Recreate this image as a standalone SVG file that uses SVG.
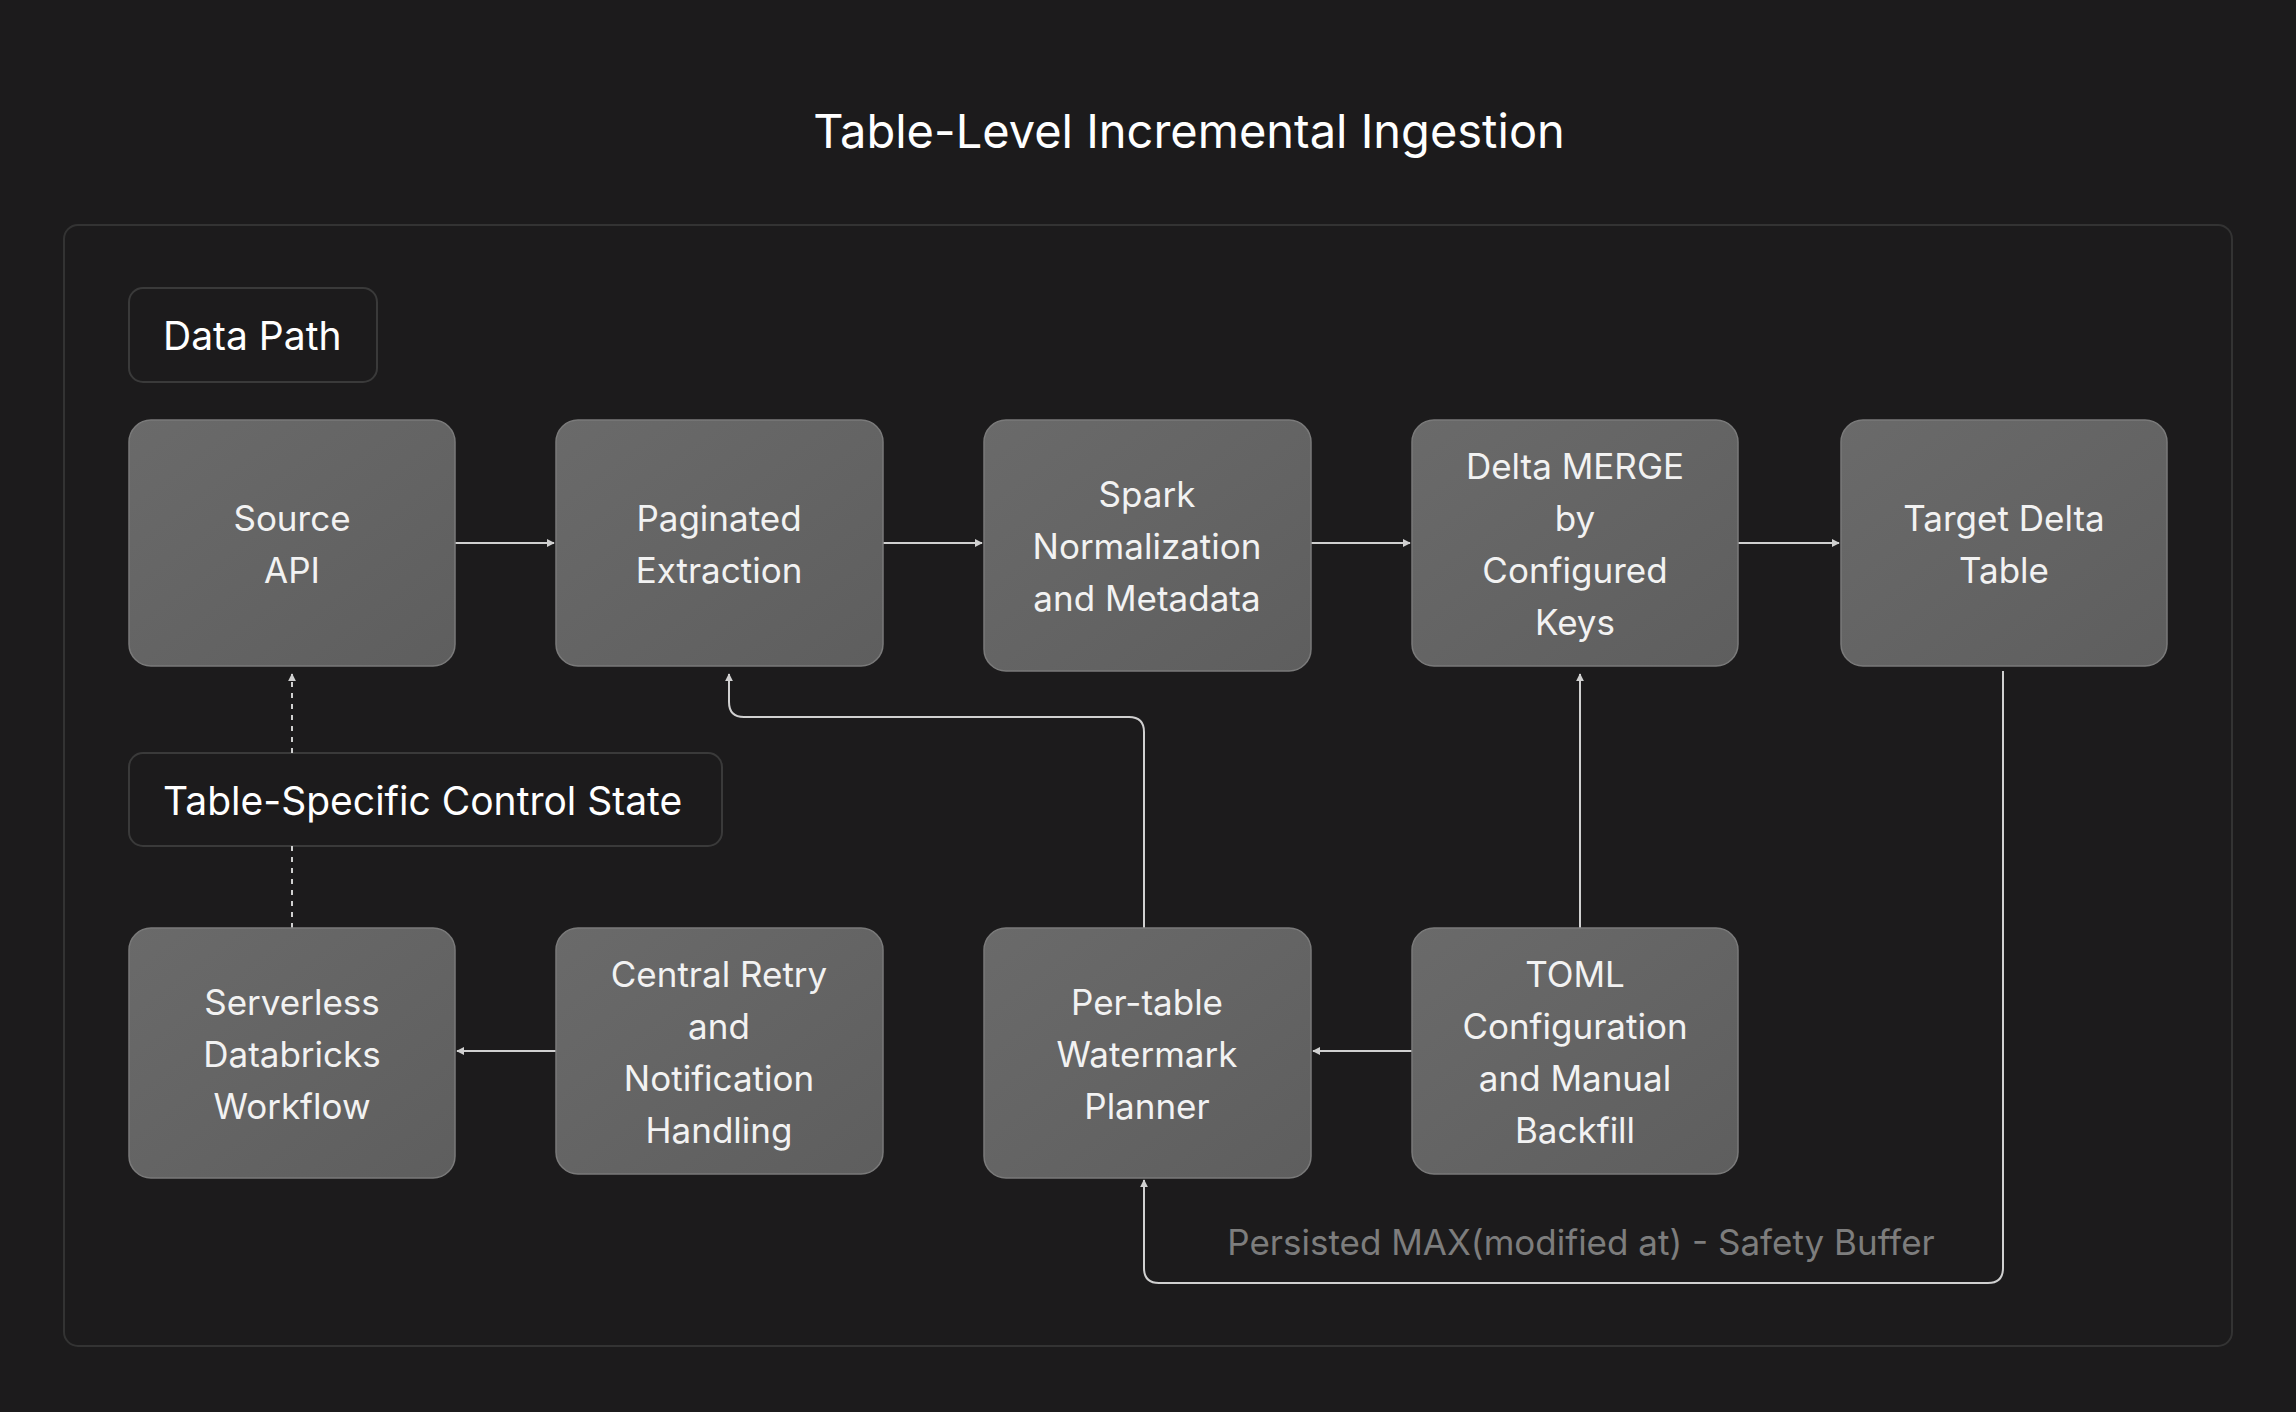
<svg xmlns="http://www.w3.org/2000/svg" width="2296" height="1412" viewBox="0 0 2296 1412">
<defs>
<linearGradient id="g" x1="0" y1="0" x2="1" y2="1"><stop offset="0" stop-color="#6a6a6a"/><stop offset="1" stop-color="#5e5e5e"/></linearGradient>
<marker id="a" viewBox="0 0 10 10" refX="9" refY="5" markerWidth="8" markerHeight="8" orient="auto-start-reverse" markerUnits="userSpaceOnUse"><path d="M0,0 L10,5 L0,10 z" fill="#d0d0d0"/></marker>
<style>
.n{fill:url(#g);stroke:#7a7a7a;stroke-width:1.5}
.t{font-family:Inter,"Liberation Sans",sans-serif;font-size:35px;fill:#f2f2f2;text-anchor:middle}
.l{font-family:Inter,"Liberation Sans",sans-serif;font-size:39px;fill:#ffffff}
.c{fill:none;stroke:#d0d0d0;stroke-width:2}
.d{stroke-dasharray:5 6}
</style>
</defs>
<rect width="2296" height="1412" fill="#1c1b1c"/>
<text x="1189" y="148" class="t" style="font-size:47px;fill:#fff">Table-Level Incremental Ingestion</text>
<rect x="64" y="225" width="2168" height="1121" rx="14" fill="#1c1b1c" stroke="#333" stroke-width="2"/>
<g id="label-data-path"><rect x="129" y="288" width="248" height="94" rx="14" fill="#1c1b1c" stroke="#3a3a3a" stroke-width="2"/><text x="163" y="350" class="l">Data Path</text></g>
<g id="label-control"><rect x="129" y="753" width="593" height="93" rx="14" fill="#1c1b1c" stroke="#3a3a3a" stroke-width="2"/><text x="163" y="815" class="l">Table-Specific Control State</text></g>
<g id="connectors">
<path class="c" d="M455 543H554" marker-end="url(#a)"/>
<path class="c" d="M883 543H982" marker-end="url(#a)"/>
<path class="c" d="M1311 543H1410" marker-end="url(#a)"/>
<path class="c" d="M1738 543H1839" marker-end="url(#a)"/>
<path class="c d" d="M292 928V846"/>
<path class="c d" d="M292 753V674" marker-end="url(#a)"/>
<path class="c" d="M556 1051H457" marker-end="url(#a)"/>
<path class="c" d="M1412 1051H1313" marker-end="url(#a)"/>
<path class="c" d="M1144 928V732Q1144 717 1129 717H744Q729 717 729 702V674" marker-end="url(#a)"/>
<path class="c" d="M1580 928V674" marker-end="url(#a)"/>
<path class="c" d="M2003 671V1268Q2003 1283 1988 1283H1159Q1144 1283 1144 1268V1180" marker-end="url(#a)"/>
<text x="1581" y="1255" class="t" style="fill:#7d7d7d">Persisted MAX(modified at) - Safety Buffer</text>
</g>
<g id="n1"><rect class="n" x="129" y="420" width="326" height="246" rx="22"/><text class="t" x="292" y="531">Source</text><text class="t" x="292" y="583">API</text></g>
<g id="n2"><rect class="n" x="556" y="420" width="327" height="246" rx="22"/><text class="t" x="719" y="531">Paginated</text><text class="t" x="719" y="583">Extraction</text></g>
<g id="n3"><rect class="n" x="984" y="420" width="327" height="251" rx="22"/><text class="t" x="1147" y="507">Spark</text><text class="t" x="1147" y="559">Normalization</text><text class="t" x="1147" y="611">and Metadata</text></g>
<g id="n4"><rect class="n" x="1412" y="420" width="326" height="246" rx="22"/><text class="t" x="1575" y="479">Delta MERGE</text><text class="t" x="1575" y="531">by</text><text class="t" x="1575" y="583">Configured</text><text class="t" x="1575" y="635">Keys</text></g>
<g id="n5"><rect class="n" x="1841" y="420" width="326" height="246" rx="22"/><text class="t" x="2004" y="531">Target Delta</text><text class="t" x="2004" y="583">Table</text></g>
<g id="n6"><rect class="n" x="129" y="928" width="326" height="250" rx="22"/><text class="t" x="292" y="1015">Serverless</text><text class="t" x="292" y="1067">Databricks</text><text class="t" x="292" y="1119">Workflow</text></g>
<g id="n7"><rect class="n" x="556" y="928" width="327" height="246" rx="22"/><text class="t" x="719" y="987">Central Retry</text><text class="t" x="719" y="1039">and</text><text class="t" x="719" y="1091">Notification</text><text class="t" x="719" y="1143">Handling</text></g>
<g id="n8"><rect class="n" x="984" y="928" width="327" height="250" rx="22"/><text class="t" x="1147" y="1015">Per-table</text><text class="t" x="1147" y="1067">Watermark</text><text class="t" x="1147" y="1119">Planner</text></g>
<g id="n9"><rect class="n" x="1412" y="928" width="326" height="246" rx="22"/><text class="t" x="1575" y="987">TOML</text><text class="t" x="1575" y="1039">Configuration</text><text class="t" x="1575" y="1091">and Manual</text><text class="t" x="1575" y="1143">Backfill</text></g>
</svg>
